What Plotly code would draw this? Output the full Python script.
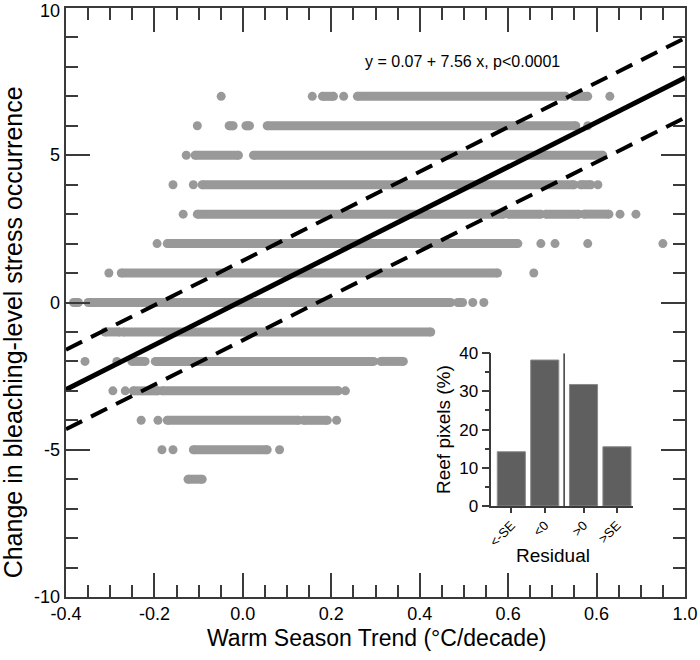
import plotly.graph_objects as go

# ---------------- data ----------------
# dense strips of points: (row value, x start, x end)
seg_y = [7, 7, 7,
         6, 6, 6,
         5, 5,
         4, 4,
         3, 3, 3, 3,
         2,
         1,
         0, 0, 0,
         -1, -1,
         -2, -2, -2,
         -3, -3,
         -4, -4,
         -5,
         -6]
seg_x0 = [0.180, 0.259, 0.749,
          -0.031, 0.007, 0.055,
          -0.108, 0.024,
          -0.092, 0.764,
          -0.103, 0.600, 0.685, 0.771,
          -0.171,
          -0.275,
          -0.383, -0.350, 0.486,
          -0.312, -0.271,
          -0.251, -0.198, 0.312,
          -0.248, -0.183,
          -0.171, 0.137,
          -0.112,
          -0.124]
seg_x1 = [0.205, 0.730, 0.780,
          -0.022, 0.015, 0.753,
          -0.010, 0.814,
          0.749, 0.787,
          0.590, 0.674, 0.760, 0.828,
          0.622,
          0.576,
          -0.372, 0.470, 0.497,
          -0.278, 0.425,
          -0.221, 0.296, 0.363,
          -0.192, 0.216,
          0.126, 0.191,
          0.055,
          -0.092]

# isolated points
pt_x = [-0.049, 0.157, 0.228, 0.830,
        -0.103, 0.780,
        -0.128,
        -0.158, -0.112, 0.803,
        -0.135, 0.853, 0.889,
        -0.194, 0.674, 0.706, 0.780, 0.950,
        -0.303, 0.658,
        0.520, 0.545,
        -0.357, -0.285,
        -0.294, -0.266, 0.232,
        -0.230, -0.192, 0.212,
        -0.183, -0.158, 0.083]
pt_y = [7, 7, 7, 7,
        6, 6,
        5,
        4, 4, 4,
        3, 3, 3,
        2, 2, 2, 2, 2,
        1, 1,
        0, 0,
        -2, -2,
        -3, -3, -3,
        -4, -4, -4,
        -5, -5, -5]

# regression
intercept = 0.07
slope = 7.56
se = 1.35
x_range = [-0.4, 1.0]
y_range = [-10, 10]

# x tick labels (as printed)
x_tickvals = [-0.4, -0.2, 0.0, 0.2, 0.4, 0.6, 0.8, 1.0]
x_ticktext = ["-0.4", "-0.2", "0.0", "0.2", "0.4", "0.6", "0.6", "1.0"]
y_tickvals = [-10, -5, 0, 5, 10]

# inset histogram
res_cats = ["<-SE", "<0", ">0", ">SE"]
res_vals = [14.2, 38.2, 31.8, 15.5]

# ---------------- layout constants ----------------
res_pos = [0, 1, 2.16, 3.16]
GRAY = "#999999"
AX = "#3a3a3a"
FONT = "Liberation Sans, Arial, sans-serif"

fig = go.Figure()

# strips
sx, sy = [], []
for y, a, b in zip(seg_y, seg_x0, seg_x1):
    sx += [a, b, None]
    sy += [y, y, None]
fig.add_trace(go.Scatter(x=sx, y=sy, mode="lines+markers",
                         line=dict(color=GRAY, width=9),
                         marker=dict(color=GRAY, size=9, line=dict(width=0)),
                         hoverinfo="skip", showlegend=False))
fig.add_trace(go.Scatter(x=pt_x, y=pt_y, mode="markers",
                         marker=dict(color=GRAY, size=9, line=dict(width=0)),
                         showlegend=False))

# regression lines
lx = x_range
for off, dash, w in [(0, "solid", 5), (se, "dash", 4), (-se, "dash", 4)]:
    fig.add_trace(go.Scatter(x=lx, y=[intercept + off + slope * v for v in lx],
                             mode="lines",
                             line=dict(color="black", width=w, dash="18px,10px" if dash == "dash" else "solid"),
                             showlegend=False, hoverinfo="skip"))

# inset bars
fig.add_trace(go.Bar(x=res_pos, y=res_vals, xaxis="x2", yaxis="y2",
                     width=0.84, marker=dict(color="#5f5f5f", line=dict(color="#8a8a8a", width=1)),
                     showlegend=False))

fig.add_annotation(x=0.271, y=8.2, xref="x", yref="y", xanchor="left",
                   text="y = 0.07 + 7.56 x, p<0.0001", showarrow=False,
                   font=dict(family=FONT, size=16, color="black"))

# y tick labels (placed at the tick values; top one nudged to stay on the page)
for v in y_tickvals:
    fig.add_annotation(x=-0.007, y=v, xref="paper", yref="y",
                       xanchor="right", yanchor="middle", showarrow=False,
                       yshift=-3 if v == y_range[1] else 0,
                       text=str(v), font=dict(family=FONT, size=18, color="black"))

# main axis titles
fig.add_annotation(x=0.501, y=-0.070, xref="paper", yref="paper",
                   xanchor="center", yanchor="middle", showarrow=False,
                   text="Warm Season Trend (°C/decade)",
                   font=dict(family=FONT, size=23, color="black"))
fig.add_annotation(x=-0.085, y=0.45, xref="paper", yref="paper",
                   xanchor="center", yanchor="middle", showarrow=False, textangle=-90,
                   text="Change in bleaching-level stress occurrence",
                   font=dict(family=FONT, size=25, color="black"))
# inset x title
fig.add_annotation(x=0.787, y=0.071, xref="paper", yref="paper",
                   xanchor="center", yanchor="middle", showarrow=False,
                   text="Residual", font=dict(family=FONT, size=19, color="black"))

fig.add_shape(type="line", xref="x2", yref="y2", x0=1.58, x1=1.58, y0=0, y1=40,
              line=dict(color=AX, width=1.5))

fig.update_layout(
    width=700, height=660,
    margin=dict(l=66, r=15, t=8, b=63),
    paper_bgcolor="white", plot_bgcolor="white",
    font=dict(family=FONT, color="black"),
    xaxis=dict(range=x_range, tickvals=x_tickvals, ticktext=x_ticktext,
               ticks="inside", ticklen=24, tickwidth=1.5, tickcolor=AX,
               minor=dict(dtick=0.05, tick0=0, ticks="inside", ticklen=12, tickwidth=1.5, tickcolor=AX),
               showline=True, linecolor=AX, linewidth=1.5, mirror="ticks",
               showgrid=False, zeroline=False, automargin=False, ticklabeloverflow="allow",
               tickfont=dict(size=18, family=FONT)),
    yaxis=dict(range=y_range, tickvals=y_tickvals, showticklabels=False,
               ticks="inside", ticklen=24, tickwidth=1.5, tickcolor=AX,
               minor=dict(dtick=1, tick0=0, ticks="inside", ticklen=12, tickwidth=1.5, tickcolor=AX),
               showline=True, linecolor=AX, linewidth=1.5, mirror="ticks",
               showgrid=False, zeroline=False, automargin=False),
    xaxis2=dict(domain=[0.687, 0.916], anchor="y2", range=[-0.6, 3.64],
                tickvals=res_pos, ticktext=res_cats, tickangle=-45,
                ticks="outside", ticklen=5, tickcolor=AX, tickwidth=1.5,
                showline=True, linecolor=AX, linewidth=1.5, showgrid=False, zeroline=False,
                automargin=False,
                tickfont=dict(size=13, family=FONT)),
    yaxis2=dict(domain=[0.1545, 0.414], anchor="x2", range=[0, 40],
                tickvals=[0, 10, 20, 30, 40],
                ticks="outside", ticklen=8, tickcolor=AX, tickwidth=1.5,
                minor=dict(dtick=5, ticks="outside", ticklen=5, tickcolor=AX, tickwidth=1.5),
                showline=True, linecolor=AX, linewidth=1.5, showgrid=False, zeroline=False,
                automargin=False,
                tickfont=dict(size=17, family=FONT),
                title=dict(text="Reef pixels (%)", font=dict(size=19, family=FONT), standoff=4)),
)

fig.write_html("out.html", config={"displayModeBar": False},
               post_script="document.body.style.margin='0';")
